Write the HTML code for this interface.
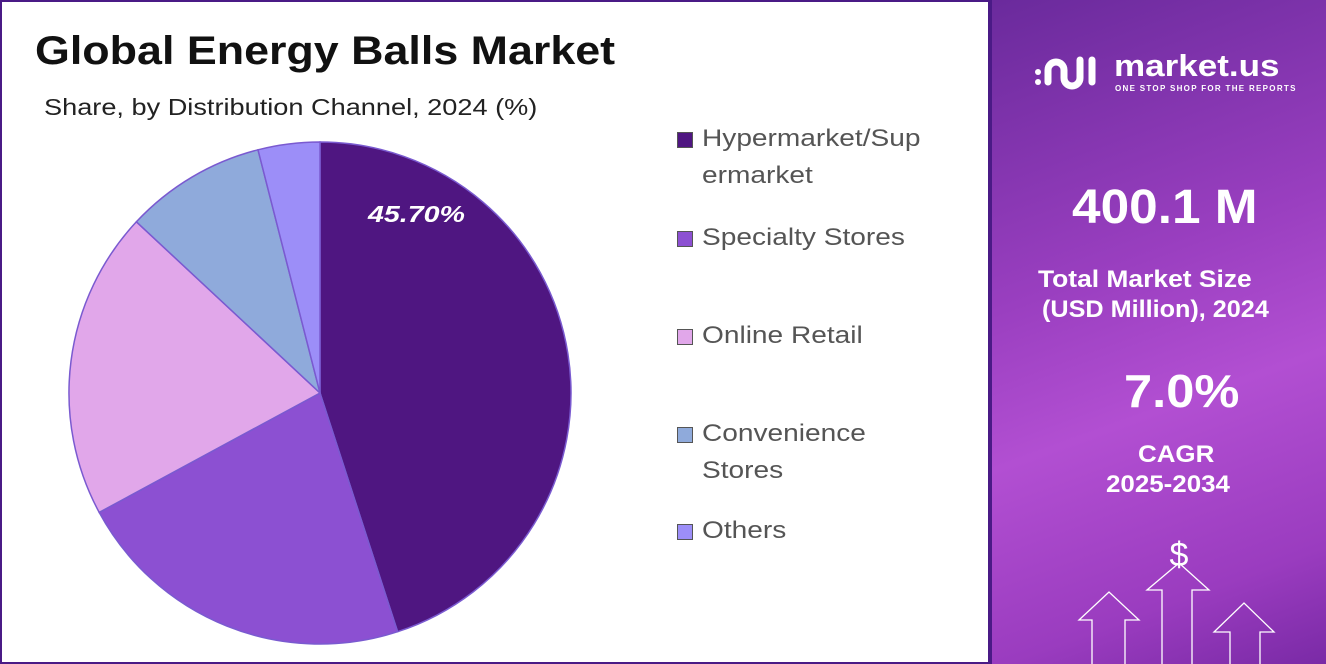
<!DOCTYPE html>
<html><head><style>
body{margin:0;width:1326px;height:664px;overflow:hidden;font-family:"Liberation Sans",sans-serif;}
.left{position:absolute;left:0;top:0;width:986px;height:660px;border:2px solid #4a1a86;background:#fff;}
.right{position:absolute;left:990px;top:0;width:336px;height:664px;background:linear-gradient(160deg,#6a2a9c 0%,#9a3fc0 40%,#b24fd2 60%,#9a3cbf 85%,#7a2aa6 100%);border-left:2px solid #4a1a86;box-sizing:border-box;color:#fff;}
.t{position:absolute;font-weight:bold;white-space:nowrap;transform-origin:0 0;}
.leg{position:absolute;left:676px;font-size:24px;color:#555;line-height:37px;}
.leg span.x{display:inline-block;margin-left:24px;transform:scaleX(1.17);transform-origin:0 0;}
.sw{position:absolute;left:-1px;width:14px;height:14px;border:1px solid #555;}
</style></head><body>
<div class="left">
<div class="t" style="left:33px;top:27px;font-size:40px;color:#111;transform:scaleX(1.12);">Global Energy Balls Market</div>
<div class="t" style="left:42px;top:92px;font-size:23px;color:#222;font-weight:normal;transform:scaleX(1.18);">Share, by Distribution Channel, 2024 (%)</div>
<svg style="position:absolute;left:-2px;top:-2px" width="990" height="664">
<g stroke="#7a5ad0" stroke-width="1.5">
<path d="M320 393 L320 142 A251 251 0 0 1 397.6 631.7 Z" fill="#4f1681"/>
<path d="M320 393 L397.6 631.7 A251 251 0 0 1 99.2 512.4 Z" fill="#8c50d2"/>
<path d="M320 393 L99.2 512.4 A251 251 0 0 1 136.4 221.8 Z" fill="#e1a7ea"/>
<path d="M320 393 L136.4 221.8 A251 251 0 0 1 258 149.8 Z" fill="#8faadb"/>
<path d="M320 393 L258 149.8 A251 251 0 0 1 320 142 Z" fill="#9c8ef8"/>
</g>
<text x="368" y="222" fill="#fff" font-size="23" font-weight="bold" font-style="italic" font-family="Liberation Sans" textLength="97" lengthAdjust="spacingAndGlyphs">45.70%</text>
</svg>
<div class="leg" style="top:118px;"><span class="sw" style="top:12px;background:#4f1681"></span><span class="x">Hypermarket/Sup</span><br><span class="x">ermarket</span></div>
<div class="leg" style="top:217px;"><span class="sw" style="top:12px;background:#8c50d2"></span><span class="x">Specialty Stores</span></div>
<div class="leg" style="top:315px;"><span class="sw" style="top:12px;background:#e1a7ea"></span><span class="x">Online Retail</span></div>
<div class="leg" style="top:413px;"><span class="sw" style="top:12px;background:#8faadb"></span><span class="x">Convenience</span><br><span class="x">Stores</span></div>
<div class="leg" style="top:510px;"><span class="sw" style="top:12px;background:#9c8ef8"></span><span class="x">Others</span></div>
</div>
<div class="right">
<svg style="position:absolute;left:40px;top:48px" width="80" height="50" fill="none" stroke="#fff" stroke-width="7" stroke-linecap="round">
<circle cx="6" cy="24" r="3" fill="#fff" stroke="none"/><circle cx="6" cy="34" r="3" fill="#fff" stroke="none"/>
<path d="M16 34 V22 A8 8 0 0 1 32 22 V30 A8 8 0 0 0 48 30 V12"/>
<path d="M60 12 V34"/>
</svg>
<div class="t" style="left:122px;top:48px;font-size:31px;transform:scaleX(1.13);">market.us</div>
<div class="t" style="left:123px;top:84px;font-size:8px;letter-spacing:1.3px;">ONE STOP SHOP FOR THE REPORTS</div>
<div class="t" style="left:80px;top:180px;font-size:48px;transform:scaleX(1.07);">400.1 M</div>
<div class="t" style="left:46px;top:266px;font-size:24px;transform:scaleX(1.1);">Total Market Size</div>
<div class="t" style="left:50px;top:296px;font-size:24px;transform:scaleX(1.05);">(USD Million), 2024</div>
<div class="t" style="left:132px;top:364px;font-size:46px;transform:scaleX(1.1);">7.0%</div>
<div class="t" style="left:146px;top:441px;font-size:24px;transform:scaleX(1.08);">CAGR</div>
<div class="t" style="left:114px;top:471px;font-size:24px;transform:scaleX(1.08);">2025-2034</div>
<svg style="position:absolute;left:0;top:520px" width="336" height="144" fill="none" stroke="#fff" stroke-width="1.3">
<text x="187" y="46" fill="#fff" stroke="none" font-size="34" text-anchor="middle" font-family="Liberation Sans">$</text>
<path d="M170 144 V70 H155 L187 43 L217 70 H200 V144"/>
<path d="M100 144 V100 H87 L117 72 L147 100 H133 V144"/>
<path d="M238 144 V112 H222 L252 83 L282 112 H268 V144"/>
</svg>
</div>
</body></html>
